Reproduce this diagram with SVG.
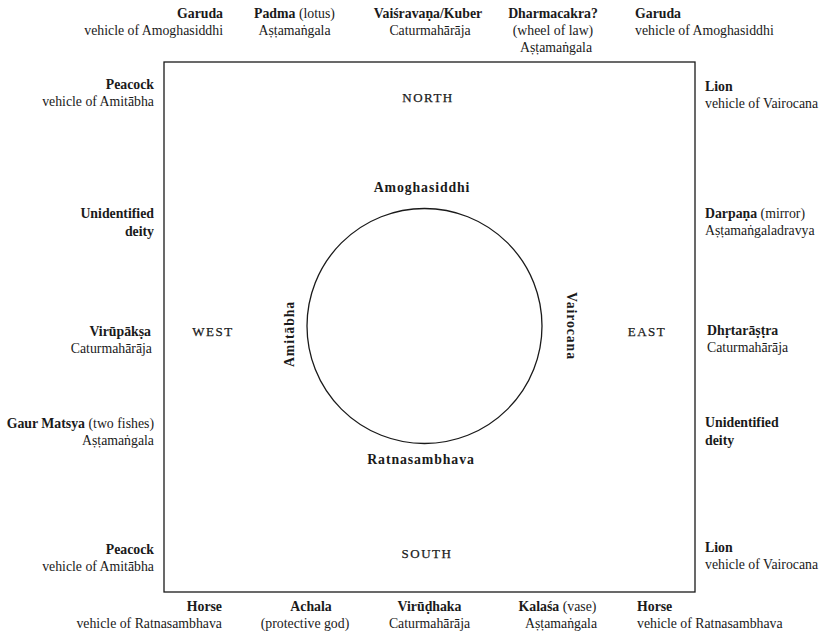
<svg xmlns="http://www.w3.org/2000/svg" width="821" height="636" viewBox="0 0 821 636">
<style>
text{font-family:"Liberation Serif","Times New Roman",serif;font-size:13.8px;fill:#1a1a1a}
.b{font-weight:bold}
.r{text-anchor:end}
.m{text-anchor:middle}
.dir{font-size:13px;letter-spacing:1.5px;text-anchor:middle;stroke:#1a1a1a;stroke-width:0.25}
.bud{font-size:13.8px;font-weight:bold;letter-spacing:0.9px;text-anchor:middle}
.shape{fill:none;stroke:#1a1a1a;stroke-width:1.3}
</style>
<g id="connectors"></g>
<g id="frame"><rect class="shape" x="164" y="62" width="531" height="530"/></g>
<g id="circle"><circle class="shape" cx="424.5" cy="326" r="117.5"/></g>
<g id="directions">
<text class="dir" x="428" y="102">NORTH</text>
<text class="dir" x="427" y="558">SOUTH</text>
<text class="dir" x="213" y="336">WEST</text>
<text class="dir" x="647" y="336">EAST</text>
</g>
<g id="buddhas">
<text class="bud" x="422" y="192">Amoghasiddhi</text>
<text class="bud" x="421" y="464">Ratnasambhava</text>
<text class="bud" transform="translate(294,334) rotate(-90)">Amitābha</text>
<text class="bud" transform="translate(567,326) rotate(90)">Vairocana</text>
</g>
<g id="top-garuda-left"><text class="r b" x="223" y="18">Garuda</text><text class="r" x="223" y="35">vehicle of Amoghasiddhi</text></g>
<g id="top-padma"><text class="m" x="294.5" y="18"><tspan class="b">Padma</tspan> (lotus)</text><text class="m" x="294.5" y="35">Aṣṭamaṅgala</text></g>
<g id="top-vaisravana"><text class="m b" x="428" y="18">Vaiśravaṇa/Kuber</text><text class="m" x="430" y="35">Caturmahārāja</text></g>
<g id="top-dharmacakra"><text class="m b" x="553" y="18">Dharmacakra?</text><text class="m" x="553" y="35">(wheel of law)</text><text class="m" x="556" y="52">Aṣṭamaṅgala</text></g>
<g id="top-garuda-right"><text class="b" x="635" y="18">Garuda</text><text x="635" y="35">vehicle of Amoghasiddhi</text></g>
<g id="left-peacock-top"><text class="r b" x="154" y="89">Peacock</text><text class="r" x="154" y="106">vehicle of Amitābha</text></g>
<g id="left-unidentified"><text class="r b" x="154" y="218">Unidentified</text><text class="r b" x="154" y="236">deity</text></g>
<g id="left-virupaksa"><text class="r b" x="151" y="336">Virūpākṣa</text><text class="r" x="152" y="353">Caturmahārāja</text></g>
<g id="left-matsya"><text class="r" x="154" y="428"><tspan class="b">Gaur Matsya</tspan> (two fishes)</text><text class="r" x="154" y="445">Aṣṭamaṅgala</text></g>
<g id="left-peacock-bottom"><text class="r b" x="154" y="554">Peacock</text><text class="r" x="154" y="571">vehicle of Amitābha</text></g>
<g id="right-lion-top"><text class="b" x="705" y="91">Lion</text><text x="705" y="108">vehicle of Vairocana</text></g>
<g id="right-darpana"><text x="705" y="218"><tspan class="b">Darpaṇa</tspan> (mirror)</text><text x="705" y="235">Aṣṭamaṅgaladravya</text></g>
<g id="right-dhrtarastra"><text class="b" x="707" y="335">Dhṛtarāṣṭra</text><text x="707" y="352">Caturmahārāja</text></g>
<g id="right-unidentified"><text class="b" x="705" y="427">Unidentified</text><text class="b" x="705" y="445">deity</text></g>
<g id="right-lion-bottom"><text class="b" x="705" y="552">Lion</text><text x="705" y="569">vehicle of Vairocana</text></g>
<g id="bottom-horse-left"><text class="r b" x="222" y="611">Horse</text><text class="r" x="222" y="628">vehicle of Ratnasambhava</text></g>
<g id="bottom-achala"><text class="m b" x="311" y="611">Achala</text><text class="m" x="305" y="628">(protective god)</text></g>
<g id="bottom-virudhaka"><text class="m b" x="429.5" y="611">Virūḍhaka</text><text class="m" x="429.5" y="628">Caturmahārāja</text></g>
<g id="bottom-kalasa"><text class="m" x="557.5" y="611"><tspan class="b">Kalaśa</tspan> (vase)</text><text class="m" x="561" y="628">Aṣṭamaṅgala</text></g>
<g id="bottom-horse-right"><text class="b" x="637" y="611">Horse</text><text x="637" y="628">vehicle of Ratnasambhava</text></g>
</svg>
